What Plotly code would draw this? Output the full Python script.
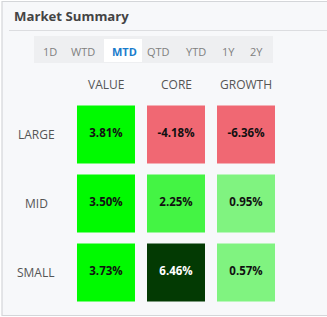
import plotly.graph_objects as go

W, H = 327, 317

columns = ["VALUE", "CORE", "GROWTH"]
rows = ["LARGE", "MID", "SMALL"]
values = [
    [3.81, -4.18, -6.36],
    [3.50, 2.25, 0.95],
    [3.73, 6.46, 0.57],
]
tabs = ["1D", "WTD", "MTD", "QTD", "YTD", "1Y", "2Y"]
active_tab = "MTD"


def tile_color(v):
    if v < 0:
        return "#f06873"
    if v < 1:
        return "#80f380"
    if v < 3:
        return "#44f444"
    if v < 5:
        return "#00fa00"
    return "#033a03"


def text_color(v):
    return "#ffffff" if v >= 5 else "#111111"


xs, ys, cols, txt, tcols = [], [], [], [], []
for r, row in zip(rows, values):
    for c, v in zip(columns, row):
        xs.append(c)
        ys.append(r)
        cols.append(tile_color(v))
        txt.append(f"{v:.2f}%")
        tcols.append(text_color(v))

FONT = "Open Sans, Noto Sans, sans-serif"

fig = go.Figure()
fig.add_trace(go.Scatter(
    x=xs, y=ys, mode="markers+text",
    marker=dict(symbol="square", size=58, color=cols, line=dict(width=0)),
    text=txt, textposition="middle center",
    textfont=dict(family=FONT, size=11.5, color=tcols, weight=700),
    hoverinfo="skip", showlegend=False,
))

def px(x):
    return x / W

def py(y):
    return 1 - y / H

shapes = [
    # panel
    dict(type="rect", xref="paper", yref="paper", x0=px(2), x1=px(345), y0=py(315.5), y1=py(1.5),
         fillcolor="#f7f8fa", line=dict(color="#d4d6d9", width=1.2), layer="below"),
    # separator
    dict(type="line", xref="paper", yref="paper", x0=px(9), x1=px(327), y0=py(30.5), y1=py(30.5),
         line=dict(color="#dcdde0", width=1.2), layer="below"),
    # tab bar
    dict(type="rect", xref="paper", yref="paper", x0=px(34), x1=px(273), y0=py(63), y1=py(36),
         fillcolor="#eeeff1", line=dict(width=0), layer="below"),
    # active tab
    dict(type="rect", xref="paper", yref="paper", x0=px(104), x1=px(142), y0=py(62), y1=py(39),
         fillcolor="#ffffff", line=dict(width=0), layer="below"),
]

annotations = [
    dict(text="<b>Market Summary</b>", xref="paper", yref="paper", x=px(12), y=py(16),
         xanchor="left", yanchor="middle", showarrow=False,
         font=dict(family=FONT, size=13.2, color="#444444")),
]

tab_x = [50, 83, 124, 158, 196, 229, 256]
for t, x in zip(tabs, tab_x):
    active = t == active_tab
    annotations.append(dict(
        text=f"<b>{t}</b>" if active else t, xref="paper", yref="paper", x=px(x), y=py(51),
        xanchor="center", yanchor="middle", showarrow=False,
        font=dict(family=FONT, size=11, color="#1a7ccc" if active else "#808080")))

for c in columns:
    annotations.append(dict(text=c, xref="x", yref="paper", x=c, y=py(84),
                            xanchor="center", yanchor="middle", showarrow=False,
                            font=dict(family=FONT, size=12, color="#555555")))
for r in rows:
    annotations.append(dict(text=r, xref="paper", yref="y", x=px(36), y=r,
                            xanchor="center", yanchor="middle", showarrow=False,
                            font=dict(family=FONT, size=12, color="#555555")))

fig.update_layout(
    width=W, height=H, margin=dict(l=0, r=0, t=0, b=0),
    paper_bgcolor="#ffffff", plot_bgcolor="rgba(0,0,0,0)",
    shapes=shapes, annotations=annotations,
    xaxis=dict(type="category", categoryorder="array", categoryarray=columns,
               range=[-1.514, 3.157], visible=False, fixedrange=True),
    yaxis=dict(type="category", categoryorder="array", categoryarray=rows,
               range=[2.645, -1.949], visible=False, fixedrange=True),
)

fig.write_html("out.html", config={"displayModeBar": False})
